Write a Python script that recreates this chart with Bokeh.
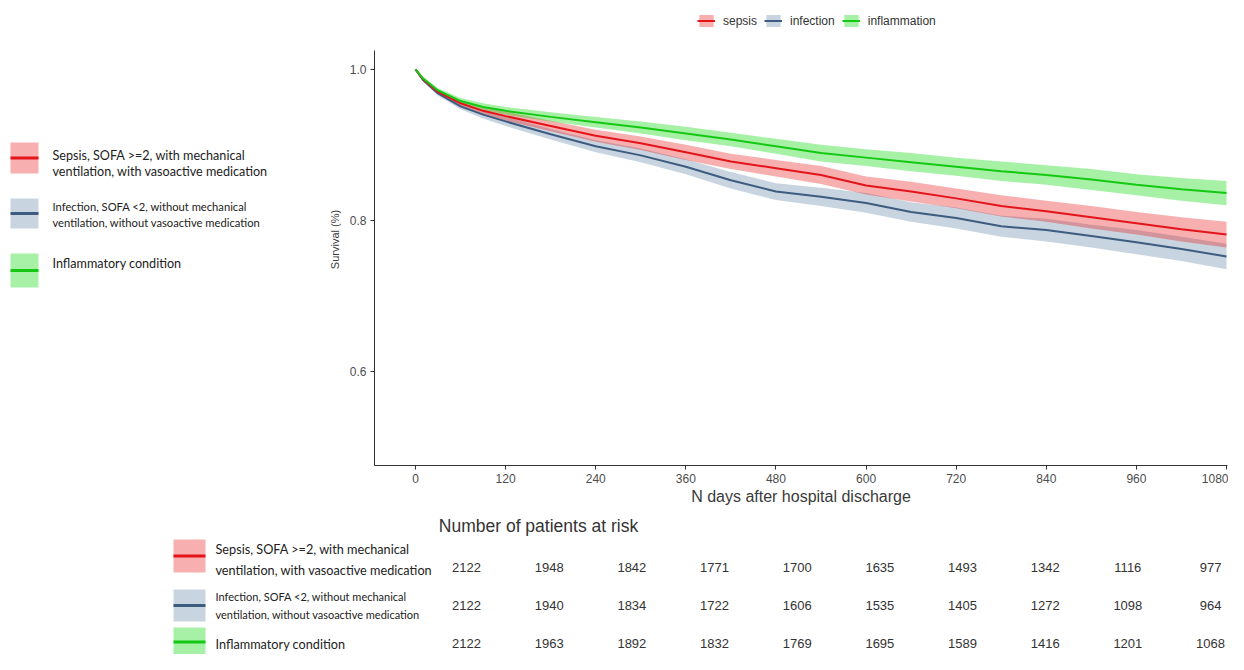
from bokeh.plotting import figure
from bokeh.layouts import column, row
from bokeh.models import Range1d, FixedTicker, Legend, LegendItem, PrintfTickFormatter
from bokeh.core.properties import value
from bokeh.embed import file_html
from bokeh.resources import INLINE

# ---------------- data ----------------
days = [0, 10, 30, 60, 90, 120, 180, 240, 300, 360, 420, 480, 540, 600,
        660, 720, 780, 840, 900, 960, 1020, 1080]
sepsis = [1.0, 0.987, 0.970, 0.955, 0.945, 0.938, 0.925, 0.912, 0.902, 0.890,
          0.878, 0.869, 0.860, 0.846, 0.838, 0.829, 0.819, 0.812, 0.804, 0.796,
          0.788, 0.781]
infection = [1.0, 0.986, 0.968, 0.951, 0.940, 0.931, 0.914, 0.898, 0.886, 0.871,
             0.853, 0.838, 0.831, 0.823, 0.811, 0.803, 0.792, 0.787, 0.779, 0.771,
             0.762, 0.752]
inflammation = [1.0, 0.988, 0.972, 0.958, 0.950, 0.945, 0.937, 0.930, 0.923, 0.915,
                0.907, 0.898, 0.889, 0.883, 0.877, 0.871, 0.865, 0.860, 0.854, 0.847,
                0.841, 0.836]
# half widths of the confidence bands
sepsis_hw = [0.0, 0.002, 0.003, 0.004, 0.005, 0.006, 0.007, 0.008, 0.009, 0.010,
             0.010, 0.011, 0.012, 0.012, 0.013, 0.013, 0.014, 0.014, 0.015, 0.015,
             0.016, 0.017]
infection_hw = [0.0, 0.002, 0.003, 0.004, 0.005, 0.006, 0.007, 0.008, 0.009, 0.010,
                0.011, 0.011, 0.012, 0.013, 0.013, 0.014, 0.014, 0.015, 0.015, 0.016,
                0.016, 0.017]
inflammation_hw = [0.0, 0.002, 0.003, 0.004, 0.005, 0.005, 0.006, 0.007, 0.008, 0.009,
                   0.009, 0.010, 0.011, 0.011, 0.012, 0.012, 0.013, 0.013, 0.014, 0.014,
                   0.015, 0.016]

risk_times = [0, 120, 240, 360, 480, 600, 720, 840, 960, 1080]
risk_sepsis = [2122, 1948, 1842, 1771, 1700, 1635, 1493, 1342, 1116, 977]
risk_infection = [2122, 1940, 1834, 1722, 1606, 1535, 1405, 1272, 1098, 964]
risk_inflammation = [2122, 1963, 1892, 1832, 1769, 1695, 1589, 1416, 1201, 1068]

short_labels = ["sepsis", "infection", "inflammation"]
long_labels = [
    ["Sepsis, SOFA >=2, with mechanical", "ventilation, with vasoactive medication"],
    ["Infection, SOFA <2, without mechanical", "ventilation, without vasoactive medication"],
    ["Inflammatory condition"],
]
x_ticks = [0, 120, 240, 360, 480, 600, 720, 840, 960, 1080]
y_ticks = [0.6, 0.8, 1.0]
x_title = "N days after hospital discharge"
y_title = "Survival (%)"
table_title = "Number of patients at risk"

# ---------------- styles / layout ----------------
LINE_COLORS = ["#E3151B", "#3D5C80", "#14C814"]
FILL_COLORS = ["#E8191E", "#4A6F94", "#22DD22"]
FILL_ALPHA = [0.35, 0.30, 0.40]
AX_FONT = "Liberation Sans"
LEG_FONT = "Lato"

TOTAL_W = 1228
LEFT_W = 306
MAIN_W = TOTAL_W - LEFT_W
MAIN_H = 510
TABLE_H = 144
B_TOP, B_BOTTOM = 13, 45

# ---------------- main KM plot ----------------
p = figure(width=MAIN_W, height=MAIN_H, output_backend="svg", toolbar_location=None,
           x_range=Range1d(-54.6, 1081.3), y_range=Range1d(0.475, 1.074))
p.min_border = 0
p.min_border_left = 68
p.min_border_right = 1
p.min_border_top = B_TOP
p.min_border_bottom = B_BOTTOM
p.outline_line_color = None
p.xgrid.visible = False
p.ygrid.visible = False

series = [(sepsis, sepsis_hw), (infection, infection_hw), (inflammation, inflammation_hw)]
band_by, line_by = {}, {}
for idx in [1, 0, 2]:
    s, hw = series[idx]
    lo = [a - b for a, b in zip(s, hw)]
    hi = [a + b for a, b in zip(s, hw)]
    band_by[idx] = p.varea(x=days, y1=lo, y2=hi, fill_color=FILL_COLORS[idx],
                           fill_alpha=FILL_ALPHA[idx])
for idx in [1, 0, 2]:
    s, hw = series[idx]
    line_by[idx] = p.line(x=days, y=s, line_color=LINE_COLORS[idx], line_width=2)

items = [LegendItem(label=short_labels[i], renderers=[band_by[i], line_by[i]]) for i in range(3)]
leg = Legend(items=items, orientation="horizontal", location=(323, 437), padding=0, margin=0,
             spacing=7, glyph_width=18, glyph_height=15, label_height=15, label_standoff=8,
             label_text_font_size="12px", label_text_font=AX_FONT, label_text_color="#333333",
             border_line_color=None, background_fill_alpha=0)
p.add_layout(leg)

p.xaxis.ticker = FixedTicker(ticks=x_ticks)
p.yaxis.ticker = FixedTicker(ticks=y_ticks)
p.yaxis.formatter = PrintfTickFormatter(format="%.1f")
p.yaxis.bounds = (0.475, 1.025)
p.xaxis.axis_label = x_title
p.yaxis.axis_label = y_title
for ax in (p.xaxis[0], p.yaxis[0]):
    ax.axis_line_color = "#333333"
    ax.axis_line_width = 1
    ax.major_tick_line_color = "#333333"
    ax.major_tick_in = 0
    ax.major_tick_out = 4
    ax.minor_tick_line_color = None
    ax.major_label_text_font = AX_FONT
    ax.major_label_text_font_size = "12px"
    ax.major_label_text_color = "#4d4d4d"
    ax.major_label_standoff = 4
    ax.axis_label_text_font = AX_FONT
    ax.axis_label_text_font_style = "normal"
    ax.axis_label_text_color = "#3a3a3a"
    ax.axis_label_standoff = 2
p.xaxis.axis_label_text_font_size = "16px"
p.yaxis.axis_label_text_font_size = "11px"
p.yaxis.axis_label_standoff = 6


def draw_key(fig, x0, x1, y0, y1, i):
    fig.quad(left=x0, right=x1, top=y0, bottom=y1, fill_color=FILL_COLORS[i],
             fill_alpha=FILL_ALPHA[i], line_color=None)
    ym = (y0 + y1) / 2
    fig.segment(x0=x0, y0=ym, x1=x1, y1=ym, line_color=LINE_COLORS[i], line_width=3)


def draw_label(fig, x, ys, lines_, size):
    fig.text(x=[x] * len(lines_), y=ys, text=lines_, text_font=value(LEG_FONT),
             text_font_size=size, text_color="#222222", text_align="left",
             text_baseline="middle")


# ---------------- left legend (frame aligned with the main plot's frame) ----------------
lf = figure(width=LEFT_W, height=MAIN_H, output_backend="svg", toolbar_location=None,
            x_range=Range1d(0, LEFT_W), y_range=Range1d(MAIN_H - B_BOTTOM, B_TOP),
            x_axis_type=None, y_axis_type=None)
lf.min_border = 0
lf.min_border_top = B_TOP
lf.min_border_bottom = B_BOTTOM
lf.outline_line_color = None
lf.xgrid.visible = False
lf.ygrid.visible = False

left_boxes = [(142, 173), (198, 228), (253, 287)]
left_text_y = [[155, 171], [206, 222], [263]]
left_sizes = ["12.6px", "11.2px", "12.6px"]
for i in range(3):
    draw_key(lf, 10, 38, left_boxes[i][0], left_boxes[i][1], i)
    draw_label(lf, 52, left_text_y[i], long_labels[i], left_sizes[i])

# ---------------- risk table ----------------
T0 = MAIN_H
tf = figure(width=TOTAL_W, height=TABLE_H, output_backend="svg", toolbar_location=None,
            x_range=Range1d(0, TOTAL_W), y_range=Range1d(T0 + TABLE_H, T0),
            x_axis_type=None, y_axis_type=None)
tf.min_border = 0
tf.outline_line_color = None
tf.xgrid.visible = False
tf.ygrid.visible = False
tf.extra_x_ranges = {"days": Range1d(-676.5, 1106.1)}
tf.extra_y_ranges = {"rows": Range1d(2.289, -1.5)}

tf.text(x=[538], y=[525], text=[table_title], text_font=value(AX_FONT), text_font_size="17.5px",
        text_color="#333333", text_align="center", text_baseline="middle")

table_boxes = [(539, 572), (589, 621), (627, 656)]
table_text_y = [[548, 569], [596, 614], [643]]
table_sizes = ["12.7px", "11px", "12.7px"]
for i in range(3):
    draw_key(tf, 173, 205, table_boxes[i][0], table_boxes[i][1], i)
    draw_label(tf, 215, table_text_y[i], long_labels[i], table_sizes[i])

for i, counts in enumerate([risk_sepsis, risk_infection, risk_inflammation]):
    tf.text(x=risk_times, y=[i] * len(risk_times), text=[str(c) for c in counts],
            x_range_name="days", y_range_name="rows", text_font=value(AX_FONT),
            text_font_size="13px", text_color="#333333", text_align="center",
            text_baseline="middle")

layout = column(row(lf, p), tf)
open("out.html", "w").write(file_html(layout, INLINE))
